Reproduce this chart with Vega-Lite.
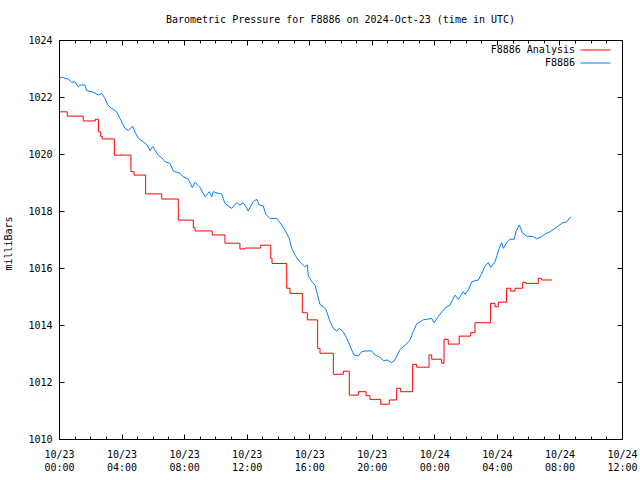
{
  "$schema": "https://vega.github.io/schema/vega-lite/v6.json",
  "width": 563,
  "height": 399,
  "autosize": {"type": "none"},
  "padding": {"left": 59, "top": 40, "right": 18, "bottom": 41},
  "title": {"text": "Barometric Pressure for F8886 on 2024-Oct-23 (time in UTC)", "font": "DejaVu Sans Mono", "fontSize": 10, "fontWeight": "normal", "color": "#000", "anchor": "middle", "offset": 10},
  "config": {
    "font": "DejaVu Sans Mono",
    "view": {"stroke": "#000", "strokeWidth": 1},
    "axis": {"labelFont": "DejaVu Sans Mono", "labelFontSize": 10, "labelColor": "#000", "titleFont": "DejaVu Sans Mono", "titleFontSize": 10, "titleFontWeight": "normal", "titleColor": "#000", "tickColor": "#000", "domain": false, "grid": false, "labelFlush": false, "labelOverlap": false},
    "legend": {"labelFont": "DejaVu Sans Mono", "labelFontSize": 10, "labelColor": "#000"}
  },
  "data": {"values": [
    {"t": 0, "p": 1021.48, "s": "F8886 Analysis"},
    {"t": 0.53, "p": 1021.33, "s": "F8886 Analysis"},
    {"t": 1.55, "p": 1021.16, "s": "F8886 Analysis"},
    {"t": 2.33, "p": 1021.22, "s": "F8886 Analysis"},
    {"t": 2.53, "p": 1020.78, "s": "F8886 Analysis"},
    {"t": 2.67, "p": 1020.61, "s": "F8886 Analysis"},
    {"t": 2.77, "p": 1020.53, "s": "F8886 Analysis"},
    {"t": 3.54, "p": 1019.96, "s": "F8886 Analysis"},
    {"t": 4.6, "p": 1019.38, "s": "F8886 Analysis"},
    {"t": 4.8, "p": 1019.26, "s": "F8886 Analysis"},
    {"t": 5.54, "p": 1018.6, "s": "F8886 Analysis"},
    {"t": 6.57, "p": 1018.42, "s": "F8886 Analysis"},
    {"t": 7.63, "p": 1017.68, "s": "F8886 Analysis"},
    {"t": 8.59, "p": 1017.41, "s": "F8886 Analysis"},
    {"t": 8.7, "p": 1017.3, "s": "F8886 Analysis"},
    {"t": 9.8, "p": 1017.16, "s": "F8886 Analysis"},
    {"t": 10.61, "p": 1016.87, "s": "F8886 Analysis"},
    {"t": 11.57, "p": 1016.67, "s": "F8886 Analysis"},
    {"t": 11.89, "p": 1016.7, "s": "F8886 Analysis"},
    {"t": 12.9, "p": 1016.8, "s": "F8886 Analysis"},
    {"t": 13.54, "p": 1016.34, "s": "F8886 Analysis"},
    {"t": 13.62, "p": 1016.16, "s": "F8886 Analysis"},
    {"t": 14.56, "p": 1015.29, "s": "F8886 Analysis"},
    {"t": 14.77, "p": 1015.11, "s": "F8886 Analysis"},
    {"t": 15.56, "p": 1014.43, "s": "F8886 Analysis"},
    {"t": 15.88, "p": 1014.18, "s": "F8886 Analysis"},
    {"t": 16.54, "p": 1013.18, "s": "F8886 Analysis"},
    {"t": 16.69, "p": 1013.01, "s": "F8886 Analysis"},
    {"t": 17.54, "p": 1012.27, "s": "F8886 Analysis"},
    {"t": 18.18, "p": 1012.38, "s": "F8886 Analysis"},
    {"t": 18.56, "p": 1011.54, "s": "F8886 Analysis"},
    {"t": 19.14, "p": 1011.66, "s": "F8886 Analysis"},
    {"t": 19.63, "p": 1011.52, "s": "F8886 Analysis"},
    {"t": 19.88, "p": 1011.39, "s": "F8886 Analysis"},
    {"t": 20.57, "p": 1011.22, "s": "F8886 Analysis"},
    {"t": 21.12, "p": 1011.37, "s": "F8886 Analysis"},
    {"t": 21.59, "p": 1011.78, "s": "F8886 Analysis"},
    {"t": 21.85, "p": 1011.66, "s": "F8886 Analysis"},
    {"t": 22.61, "p": 1012.62, "s": "F8886 Analysis"},
    {"t": 22.87, "p": 1012.52, "s": "F8886 Analysis"},
    {"t": 23.66, "p": 1012.95, "s": "F8886 Analysis"},
    {"t": 23.83, "p": 1012.8, "s": "F8886 Analysis"},
    {"t": 24.47, "p": 1012.66, "s": "F8886 Analysis"},
    {"t": 24.62, "p": 1013.5, "s": "F8886 Analysis"},
    {"t": 24.89, "p": 1013.33, "s": "F8886 Analysis"},
    {"t": 25.59, "p": 1013.61, "s": "F8886 Analysis"},
    {"t": 26.32, "p": 1013.73, "s": "F8886 Analysis"},
    {"t": 26.6, "p": 1014.08, "s": "F8886 Analysis"},
    {"t": 27.6, "p": 1014.76, "s": "F8886 Analysis"},
    {"t": 27.88, "p": 1014.64, "s": "F8886 Analysis"},
    {"t": 28.09, "p": 1014.8, "s": "F8886 Analysis"},
    {"t": 28.62, "p": 1015.29, "s": "F8886 Analysis"},
    {"t": 28.88, "p": 1015.19, "s": "F8886 Analysis"},
    {"t": 29.16, "p": 1015.29, "s": "F8886 Analysis"},
    {"t": 29.65, "p": 1015.5, "s": "F8886 Analysis"},
    {"t": 29.86, "p": 1015.46, "s": "F8886 Analysis"},
    {"t": 30.65, "p": 1015.64, "s": "F8886 Analysis"},
    {"t": 30.86, "p": 1015.58, "s": "F8886 Analysis"},
    {"t": 31.54, "p": 1015.58, "s": "F8886 Analysis"},
    {"t": 0, "p": 1022.63, "s": "F8886"},
    {"t": 0.19, "p": 1022.7, "s": "F8886"},
    {"t": 0.38, "p": 1022.66, "s": "F8886"},
    {"t": 0.58, "p": 1022.63, "s": "F8886"},
    {"t": 0.81, "p": 1022.52, "s": "F8886"},
    {"t": 1.02, "p": 1022.53, "s": "F8886"},
    {"t": 1.23, "p": 1022.36, "s": "F8886"},
    {"t": 1.34, "p": 1022.42, "s": "F8886"},
    {"t": 1.66, "p": 1022.42, "s": "F8886"},
    {"t": 1.77, "p": 1022.22, "s": "F8886"},
    {"t": 2.09, "p": 1022.19, "s": "F8886"},
    {"t": 2.3, "p": 1022.14, "s": "F8886"},
    {"t": 2.51, "p": 1022.07, "s": "F8886"},
    {"t": 2.73, "p": 1022.13, "s": "F8886"},
    {"t": 2.94, "p": 1021.95, "s": "F8886"},
    {"t": 3.11, "p": 1021.72, "s": "F8886"},
    {"t": 3.37, "p": 1021.6, "s": "F8886"},
    {"t": 3.69, "p": 1021.48, "s": "F8886"},
    {"t": 3.9, "p": 1021.25, "s": "F8886"},
    {"t": 4.22, "p": 1020.9, "s": "F8886"},
    {"t": 4.43, "p": 1020.82, "s": "F8886"},
    {"t": 4.71, "p": 1020.98, "s": "F8886"},
    {"t": 4.86, "p": 1020.77, "s": "F8886"},
    {"t": 5.07, "p": 1020.55, "s": "F8886"},
    {"t": 5.39, "p": 1020.43, "s": "F8886"},
    {"t": 5.63, "p": 1020.32, "s": "F8886"},
    {"t": 5.82, "p": 1020.12, "s": "F8886"},
    {"t": 5.99, "p": 1020.26, "s": "F8886"},
    {"t": 6.35, "p": 1019.96, "s": "F8886"},
    {"t": 6.59, "p": 1019.86, "s": "F8886"},
    {"t": 6.78, "p": 1019.73, "s": "F8886"},
    {"t": 7.1, "p": 1019.67, "s": "F8886"},
    {"t": 7.31, "p": 1019.4, "s": "F8886"},
    {"t": 7.74, "p": 1019.32, "s": "F8886"},
    {"t": 7.95, "p": 1019.2, "s": "F8886"},
    {"t": 8.27, "p": 1019.12, "s": "F8886"},
    {"t": 8.52, "p": 1018.82, "s": "F8886"},
    {"t": 8.7, "p": 1019.01, "s": "F8886"},
    {"t": 9.02, "p": 1018.82, "s": "F8886"},
    {"t": 9.34, "p": 1018.5, "s": "F8886"},
    {"t": 9.61, "p": 1018.68, "s": "F8886"},
    {"t": 9.76, "p": 1018.5, "s": "F8886"},
    {"t": 9.87, "p": 1018.68, "s": "F8886"},
    {"t": 10.1, "p": 1018.63, "s": "F8886"},
    {"t": 10.4, "p": 1018.6, "s": "F8886"},
    {"t": 10.61, "p": 1018.27, "s": "F8886"},
    {"t": 10.81, "p": 1018.18, "s": "F8886"},
    {"t": 11.04, "p": 1018.09, "s": "F8886"},
    {"t": 11.36, "p": 1018.29, "s": "F8886"},
    {"t": 11.57, "p": 1018.21, "s": "F8886"},
    {"t": 11.78, "p": 1018.29, "s": "F8886"},
    {"t": 11.96, "p": 1018.14, "s": "F8886"},
    {"t": 12.1, "p": 1018.0, "s": "F8886"},
    {"t": 12.28, "p": 1018.18, "s": "F8886"},
    {"t": 12.42, "p": 1018.33, "s": "F8886"},
    {"t": 12.64, "p": 1018.41, "s": "F8886"},
    {"t": 12.81, "p": 1018.21, "s": "F8886"},
    {"t": 13.06, "p": 1018.18, "s": "F8886"},
    {"t": 13.22, "p": 1017.89, "s": "F8886"},
    {"t": 13.49, "p": 1017.74, "s": "F8886"},
    {"t": 13.92, "p": 1017.74, "s": "F8886"},
    {"t": 14.24, "p": 1017.51, "s": "F8886"},
    {"t": 14.51, "p": 1017.27, "s": "F8886"},
    {"t": 14.72, "p": 1017.04, "s": "F8886"},
    {"t": 14.88, "p": 1016.69, "s": "F8886"},
    {"t": 15.09, "p": 1016.46, "s": "F8886"},
    {"t": 15.3, "p": 1016.28, "s": "F8886"},
    {"t": 15.52, "p": 1016.16, "s": "F8886"},
    {"t": 15.73, "p": 1016.04, "s": "F8886"},
    {"t": 15.88, "p": 1016.11, "s": "F8886"},
    {"t": 15.94, "p": 1015.72, "s": "F8886"},
    {"t": 16.16, "p": 1015.53, "s": "F8886"},
    {"t": 16.37, "p": 1015.4, "s": "F8886"},
    {"t": 16.51, "p": 1015.11, "s": "F8886"},
    {"t": 16.69, "p": 1014.72, "s": "F8886"},
    {"t": 16.9, "p": 1014.64, "s": "F8886"},
    {"t": 17.07, "p": 1014.55, "s": "F8886"},
    {"t": 17.33, "p": 1014.12, "s": "F8886"},
    {"t": 17.54, "p": 1013.88, "s": "F8886"},
    {"t": 17.76, "p": 1013.79, "s": "F8886"},
    {"t": 17.92, "p": 1013.88, "s": "F8886"},
    {"t": 18.18, "p": 1013.76, "s": "F8886"},
    {"t": 18.4, "p": 1013.53, "s": "F8886"},
    {"t": 18.61, "p": 1013.26, "s": "F8886"},
    {"t": 18.86, "p": 1012.95, "s": "F8886"},
    {"t": 19.14, "p": 1012.91, "s": "F8886"},
    {"t": 19.35, "p": 1013.06, "s": "F8886"},
    {"t": 19.57, "p": 1013.09, "s": "F8886"},
    {"t": 19.99, "p": 1013.09, "s": "F8886"},
    {"t": 20.2, "p": 1012.95, "s": "F8886"},
    {"t": 20.52, "p": 1012.87, "s": "F8886"},
    {"t": 20.74, "p": 1012.75, "s": "F8886"},
    {"t": 20.99, "p": 1012.77, "s": "F8886"},
    {"t": 21.27, "p": 1012.68, "s": "F8886"},
    {"t": 21.48, "p": 1012.77, "s": "F8886"},
    {"t": 21.8, "p": 1013.14, "s": "F8886"},
    {"t": 22.12, "p": 1013.28, "s": "F8886"},
    {"t": 22.44, "p": 1013.47, "s": "F8886"},
    {"t": 22.65, "p": 1013.76, "s": "F8886"},
    {"t": 22.87, "p": 1014.04, "s": "F8886"},
    {"t": 23.29, "p": 1014.18, "s": "F8886"},
    {"t": 23.83, "p": 1014.23, "s": "F8886"},
    {"t": 23.98, "p": 1014.08, "s": "F8886"},
    {"t": 24.25, "p": 1014.29, "s": "F8886"},
    {"t": 24.42, "p": 1014.42, "s": "F8886"},
    {"t": 24.68, "p": 1014.59, "s": "F8886"},
    {"t": 25.0, "p": 1014.7, "s": "F8886"},
    {"t": 25.32, "p": 1015.05, "s": "F8886"},
    {"t": 25.53, "p": 1014.9, "s": "F8886"},
    {"t": 25.85, "p": 1015.17, "s": "F8886"},
    {"t": 25.96, "p": 1015.08, "s": "F8886"},
    {"t": 26.17, "p": 1015.23, "s": "F8886"},
    {"t": 26.39, "p": 1015.52, "s": "F8886"},
    {"t": 26.81, "p": 1015.58, "s": "F8886"},
    {"t": 27.09, "p": 1015.87, "s": "F8886"},
    {"t": 27.24, "p": 1016.07, "s": "F8886"},
    {"t": 27.45, "p": 1016.19, "s": "F8886"},
    {"t": 27.6, "p": 1016.01, "s": "F8886"},
    {"t": 27.88, "p": 1016.22, "s": "F8886"},
    {"t": 28.15, "p": 1016.69, "s": "F8886"},
    {"t": 28.31, "p": 1016.89, "s": "F8886"},
    {"t": 28.41, "p": 1016.69, "s": "F8886"},
    {"t": 28.62, "p": 1016.89, "s": "F8886"},
    {"t": 28.84, "p": 1017.01, "s": "F8886"},
    {"t": 29.11, "p": 1017.01, "s": "F8886"},
    {"t": 29.22, "p": 1017.27, "s": "F8886"},
    {"t": 29.43, "p": 1017.51, "s": "F8886"},
    {"t": 29.65, "p": 1017.22, "s": "F8886"},
    {"t": 29.9, "p": 1017.12, "s": "F8886"},
    {"t": 30.33, "p": 1017.1, "s": "F8886"},
    {"t": 30.54, "p": 1017.02, "s": "F8886"},
    {"t": 30.86, "p": 1017.1, "s": "F8886"},
    {"t": 31.07, "p": 1017.19, "s": "F8886"},
    {"t": 31.39, "p": 1017.27, "s": "F8886"},
    {"t": 31.82, "p": 1017.43, "s": "F8886"},
    {"t": 32.21, "p": 1017.59, "s": "F8886"},
    {"t": 32.46, "p": 1017.62, "s": "F8886"},
    {"t": 32.72, "p": 1017.8, "s": "F8886"}
  ]},
  "resolve": {"axis": {"x": "independent", "y": "independent"}},
  "layer": [
    {
      "transform": [{"filter": "datum.s === 'F8886 Analysis'"}],
      "mark": {"type": "line", "interpolate": "step-after", "strokeWidth": 1},
      "encoding": {
        "x": {"field": "t", "type": "quantitative", "scale": {"domain": [0, 36], "nice": false, "zero": false},
          "axis": {"orient": "bottom", "title": null, "values": [0, 4, 8, 12, 16, 20, 24, 28, 32, 36], "tickSize": -5, "labelPadding": 15, "labelLineHeight": 13, "labelBaseline": "top",
            "labelExpr": "[datum.value < 24 ? '10/23' : '10/24', (datum.value % 24 < 10 ? '0' : '') + (datum.value % 24) + ':00']"}},
        "y": {"field": "p", "type": "quantitative", "scale": {"domain": [1010, 1024], "nice": false, "zero": false},
          "axis": {"orient": "left", "title": "milliBars", "values": [1010, 1012, 1014, 1016, 1018, 1020, 1022, 1024], "format": "d", "tickSize": -5, "labelPadding": 12, "titlePadding": 14, "titleY": 203}},
        "color": {"field": "s", "type": "nominal", "scale": {"domain": ["F8886 Analysis", "F8886"], "range": ["#ff0000", "#0080ff"]},
          "legend": {"title": null, "orient": "none", "legendX": 530, "legendY": 3.5, "padding": 0, "rowPadding": 1, "symbolType": "M-2.5,0H2.5", "symbolSize": 144, "symbolStrokeWidth": 1, "labelAlign": "right", "labelOffset": -27}}
      }
    },
    {
      "transform": [{"filter": "datum.s === 'F8886'"}],
      "mark": {"type": "line", "strokeWidth": 1},
      "encoding": {
        "x": {"field": "t", "type": "quantitative", "axis": {"orient": "top", "title": null, "labels": false, "values": [0, 4, 8, 12, 16, 20, 24, 28, 32, 36], "tickSize": -5}},
        "y": {"field": "p", "type": "quantitative", "axis": {"orient": "right", "title": null, "labels": false, "values": [1010, 1012, 1014, 1016, 1018, 1020, 1022, 1024], "tickSize": -5}},
        "color": {"field": "s", "type": "nominal"}
      }
    },
    {
      "mark": {"type": "line", "opacity": 0},
      "encoding": {
        "x": {"field": "t", "type": "quantitative", "axis": {"orient": "bottom", "title": null, "labels": false, "values": [1, 2, 3, 5, 6, 7, 9, 10, 11, 13, 14, 15, 17, 18, 19, 21, 22, 23, 25, 26, 27, 29, 30, 31, 33, 34, 35], "tickSize": -3}},
        "y": {"field": "p", "type": "quantitative", "axis": null},
        "detail": {"field": "s"}
      }
    },
    {
      "mark": {"type": "line", "opacity": 0},
      "encoding": {
        "x": {"field": "t", "type": "quantitative", "axis": {"orient": "top", "title": null, "labels": false, "values": [1, 2, 3, 5, 6, 7, 9, 10, 11, 13, 14, 15, 17, 18, 19, 21, 22, 23, 25, 26, 27, 29, 30, 31, 33, 34, 35], "tickSize": -3}},
        "y": {"field": "p", "type": "quantitative", "axis": null},
        "detail": {"field": "s"}
      }
    }
  ]
}
